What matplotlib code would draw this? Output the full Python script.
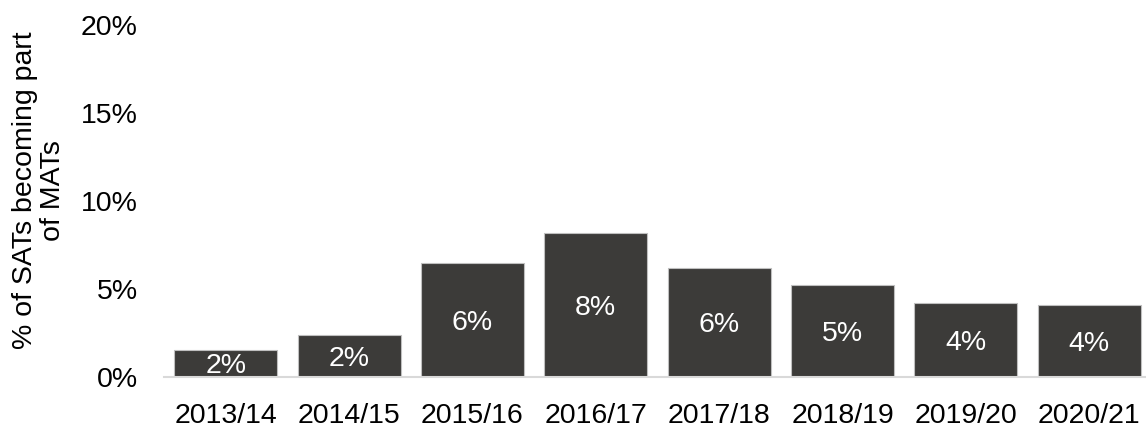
import matplotlib
matplotlib.use('Agg')
import matplotlib.pyplot as plt

# share of SATs joining MATs, per year
years = ['2013/14', '2014/15', '2015/16', '2016/17',
         '2017/18', '2018/19', '2019/20', '2020/21']
share = [1.55, 2.4, 6.45, 8.2, 6.2, 5.2, 4.2, 4.1]
yticks = [0, 5, 10, 15, 20]

plt.rcParams['font.family'] = ['Liberation Sans', 'DejaVu Sans']

fig = plt.figure(figsize=(11.46, 4.29), dpi=100)
ax = fig.add_axes([164 / 1146, 1 - 377 / 429, 1 - 164 / 1146, 352 / 429])

x = range(len(years))
bars = ax.bar(x, share, width=0.835, color='#3c3b39',
              edgecolor='#bfbfbf', linewidth=0.8)

for b, v in zip(bars, share):
    ax.text(b.get_x() + b.get_width() / 2, v / 2, '%d%%' % round(v),
            ha='center', va='center_baseline', color='white', fontsize=20.5)

ax.set_xlim(-0.5, 7.46)
ax.set_ylim(0, 20)
ax.set_xticks(list(x))
ax.set_xticklabels(years, fontsize=20.5)
ax.set_yticks(yticks)
ax.set_yticklabels(['%d%%' % t for t in yticks], fontsize=20.5)
ax.tick_params(axis='y', length=0, pad=19)
ax.tick_params(axis='x', length=0, pad=19)

for s in ['top', 'right', 'left']:
    ax.spines[s].set_visible(False)
ax.spines['bottom'].set_color('#d9d9d9')
ax.spines['bottom'].set_linewidth(1.5)

ax.set_ylabel('% of SATs becoming part\nof MATs', fontsize=20.5,
              linespacing=1.08)
ax.yaxis.set_label_coords(-0.1, 0.53)

fig.savefig('out.png', dpi=100)
